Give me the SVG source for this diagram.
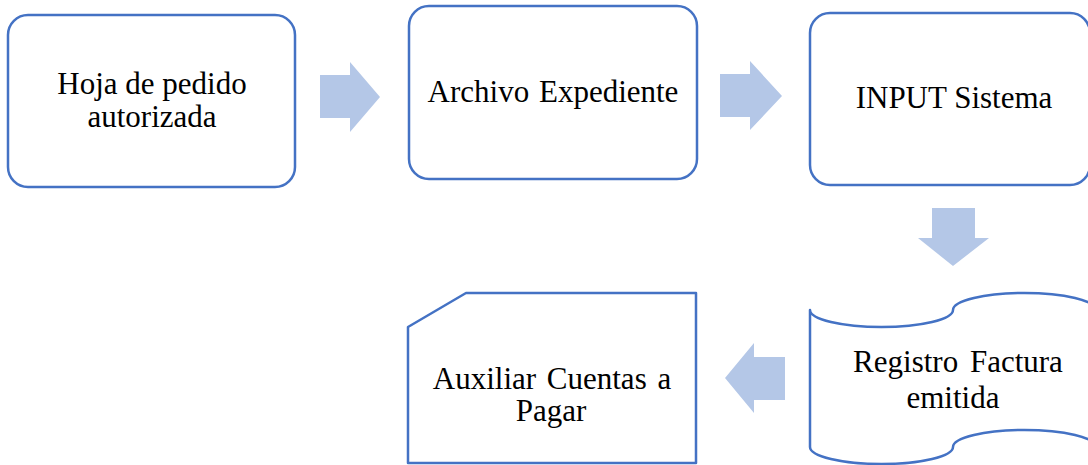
<svg xmlns="http://www.w3.org/2000/svg" width="1088" height="465" viewBox="0 0 1088 465">
<style>
.shape{fill:#ffffff;stroke:#4472C4;stroke-width:2.5;stroke-linejoin:round}
.arrow{fill:#B4C7E7;stroke:none}
.label{font-family:"Liberation Serif","Times New Roman",serif;font-size:31px;fill:#000000;text-anchor:middle}
</style>
<rect width="1088" height="465" fill="#ffffff"/>
<g id="connectors">
<polygon class="arrow" points="320,75 350,75 350,62 380,97 350,132 350,118 320,118"/>
<polygon class="arrow" points="720,74 750,74 750,61 782,96 750,130 750,117 720,117"/>
<polygon class="arrow" points="932,208 975,208 975,238 989,238 953,266 918,238 932,238"/>
<polygon class="arrow" points="785,357 754,357 754,343 725,378 754,413 754,400 785,400"/>
</g>
<g id="node-hoja">
<rect class="shape" x="8" y="15" width="287" height="172" rx="20" ry="20"/>
<text class="label" x="152" y="94">Hoja de pedido</text>
<text class="label" x="152" y="127">autorizada</text>
</g>
<g id="node-archivo">
<rect class="shape" x="409" y="6" width="288" height="173" rx="20" ry="20"/>
<text class="label" x="553" y="102" word-spacing="2">Archivo Expediente</text>
</g>
<g id="node-input">
<rect class="shape" x="810" y="13" width="280" height="172" rx="20" ry="20"/>
<text class="label" x="954" y="108">INPUT Sistema</text>
</g>
<g id="node-registro">
<path class="shape" d="M810,310 A71.5,17 0 0 0 953,310 A71.5,17 0 0 1 1096,310 L1096,447 A71.5,17 0 0 0 953,447 A71.5,17 0 0 1 810,447 Z"/>
<text class="label" x="958" y="372" word-spacing="4">Registro Factura</text>
<text class="label" x="953" y="408">emitida</text>
</g>
<g id="node-auxiliar">
<path class="shape" d="M466,293 L696,293 L696,463 L408,463 L408,327 Z"/>
<text class="label" x="552" y="389" word-spacing="3">Auxiliar Cuentas a</text>
<text class="label" x="551" y="421">Pagar</text>
</g>
</svg>
